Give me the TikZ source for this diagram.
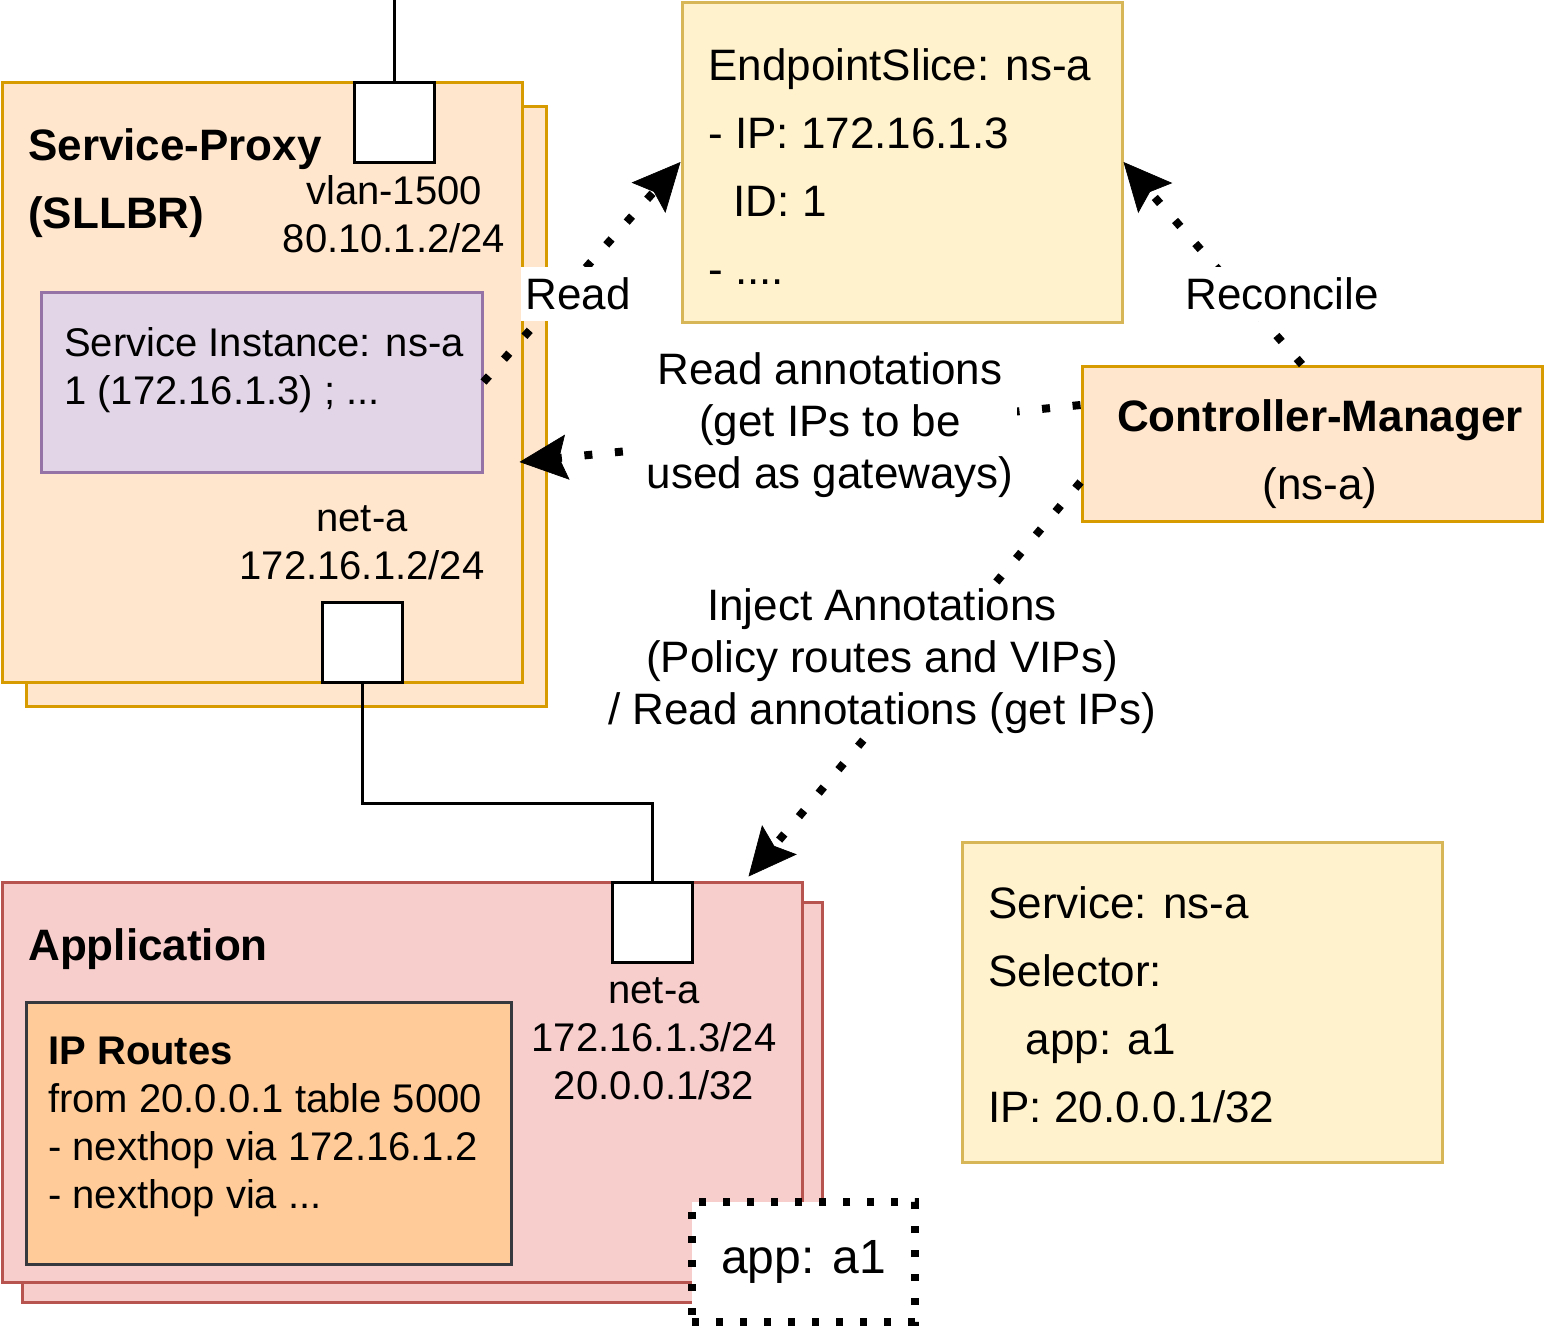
\documentclass[tikz,border=0pt]{standalone}
\usepackage{fontspec}
\setmainfont{Liberation Sans}
\usetikzlibrary{arrows.meta,calc}

\definecolor{orangeFill}{HTML}{FFE6CC}
\definecolor{orangeLine}{HTML}{D79B00}
\definecolor{purpleFill}{HTML}{E1D5E7}
\definecolor{purpleLine}{HTML}{9673A6}
\definecolor{yellowFill}{HTML}{FFF2CC}
\definecolor{yellowLine}{HTML}{D6B656}
\definecolor{redFill}{HTML}{F8CECC}
\definecolor{redLine}{HTML}{B85450}
\definecolor{routeFill}{HTML}{FFCC99}
\definecolor{routeLine}{HTML}{36393D}

\tikzset{
  box/.style={draw, line width=2.25pt, inner sep=0pt},
  orangebox/.style={box, fill=orangeFill, draw=orangeLine},
  yellowbox/.style={box, fill=yellowFill, draw=yellowLine},
  redbox/.style={box, fill=redFill, draw=redLine},
  port/.style={box, fill=white, draw=black, minimum size=60pt},
  txt/.style={inner sep=0pt, font=\fontsize{30}{36}\selectfont},
  txtl/.style={inner sep=0pt, font=\fontsize{33}{51}\selectfont},
  lbl/.style={fill=white, inner xsep=3pt, inner ysep=2pt, minimum height=40pt,
    align=center, font=\fontsize{33}{39}\selectfont},
  link/.style={line width=6pt, dash pattern=on 6pt off 17pt,
    -{Stealth[length=36pt, width=34pt, inset=6pt, line width=0.5pt]}},
  selbox/.style={draw, fill=white, line width=5.5pt, dash pattern=on 5.5pt off 12.5pt,
    inner sep=0pt, font=\fontsize{36}{43}\selectfont}
}

\begin{document}
\begin{tikzpicture}[x=0.75pt,y=0.75pt,yscale=-1,xscale=1]
\useasboundingbox (0,0) rectangle (1544,1328);

%Shape: Rectangle [Service-Proxy]
\node (spback) [orangebox, minimum width=390pt, minimum height=450pt] at (286,406) {};
\node (sp) [orangebox, minimum width=390pt, minimum height=450pt] at (262,382) {};
%Shape: Rectangle [Service Instance]
\node (si) [box, fill=purpleFill, draw=purpleLine, minimum width=330.75pt, minimum height=135pt] at (261.5,382) {};
%Straight Lines [uplink]
\coordinate (uplink) at (394,0);
\draw [line width=2.25pt] (uplink) -- (394,82);
%Shape: Square [ports]
\node (vlanport) [port] at (394,122) {};
\node (netport) [port] at (362,642) {};

%Shape: Rectangle [EndpointSlice]
\node (eps) [yellowbox, minimum width=330pt, minimum height=240pt] at (902,162) {};
%Shape: Rectangle [Controller-Manager]
\node (cm) [orangebox, minimum width=345pt, minimum height=116.25pt] at (1312,443.5) {};

%Shape: Rectangle [Application]
\node (appback) [redbox, minimum width=600pt, minimum height=300pt] at (422,1102) {};
\node (app) [redbox, minimum width=600pt, minimum height=300pt] at (402,1082) {};
%Shape: Rectangle [IP Routes]
\node (routes) [box, fill=routeFill, draw=routeLine, minimum width=363.75pt, minimum height=196.5pt] at (268.5,1133) {};
\node (appport) [port] at (652,922) {};
%Shape: Rectangle [label]
\node (sel) [selbox, minimum width=167.25pt, minimum height=90pt] at (803.5,1262) {app: a1};
%Shape: Rectangle [Service]
\node (svc) [yellowbox, minimum width=360pt, minimum height=240pt] at (1202,1002) {};

%Straight Lines [net-a wire]
\draw [line width=2.25pt] (netport.south) -- ++(0,120) -| (appport.north);

%Dotted Lines [edges]
\draw [link] (si.east) -- (eps.west);
\draw [link] ($(cm.north)+(-10,0)$) -- (eps.east);
\draw [link] ($(cm.west)+(0,-38.5)$) -- ($(sp.east)+(-4,80)$);
\draw [link] ($(cm.west)+(0,38.5)$) -- ($(app.north east)+(-55,-4)$);

% Text Node
\node (sptitle) [txtl, font=\bfseries\fontsize{33}{51}\selectfont, anchor=west, align=left] at (28,183) {Service-Proxy\\(SLLBR)};
% Text Node
\node (vlanlbl) [txt, align=center] at (394,214) {vlan-1500\\80.10.1.2/24};
% Text Node
\node (silbl) [txt, align=left, anchor=west] at (64,370) {Service Instance: ns-a\\1 (172.16.1.3) ; ...};
% Text Node
\node (netlbl) [txt, align=center] at (362,543) {net-a\\172.16.1.2/24};
% Text Node
\node (epslbl) [txtl, align=left, anchor=west] at (708,166.5) {EndpointSlice: ns-a\\- IP: 172.16.1.3\\\hspace*{19pt}ID: 1\\- ....};
% Text Node
\node (cmlbl) [txtl, align=center] at (1320,454) {\textbf{Controller-Manager}\\(ns-a)};
% Text Node
\node (applbl) [txtl, font=\bfseries\fontsize{33}{51}\selectfont, anchor=west] at (28,949) {Application};
% Text Node
\node (routeslbl) [txt, align=left, anchor=west] at (48,1127) {\textbf{IP Routes}\\from 20.0.0.1 table 5000\\- nexthop via 172.16.1.2\\- nexthop via ...};
% Text Node
\node (appportlbl) [txt, align=center] at (654,1039) {net-a\\172.16.1.3/24\\20.0.0.1/32};
% Text Node
\node (svclbl) [txtl, align=left, anchor=west] at (988,1005) {Service: ns-a\\Selector:\\\hspace*{28pt}app: a1\\IP: 20.0.0.1/32};

% Edge Labels
\node (readlbl) [lbl] at (578,294) {Read};
\node (reclbl) [lbl] at (1282,294) {Reconcile};
\node (ralbl) [lbl] at (830,425) {Read annotations\\(get IPs to be\\used as gateways)};
\node (injlbl) [lbl] at (882,661) {Inject Annotations\\(Policy routes and VIPs)\\/ Read annotations (get IPs)};

\end{tikzpicture}
\end{document}
